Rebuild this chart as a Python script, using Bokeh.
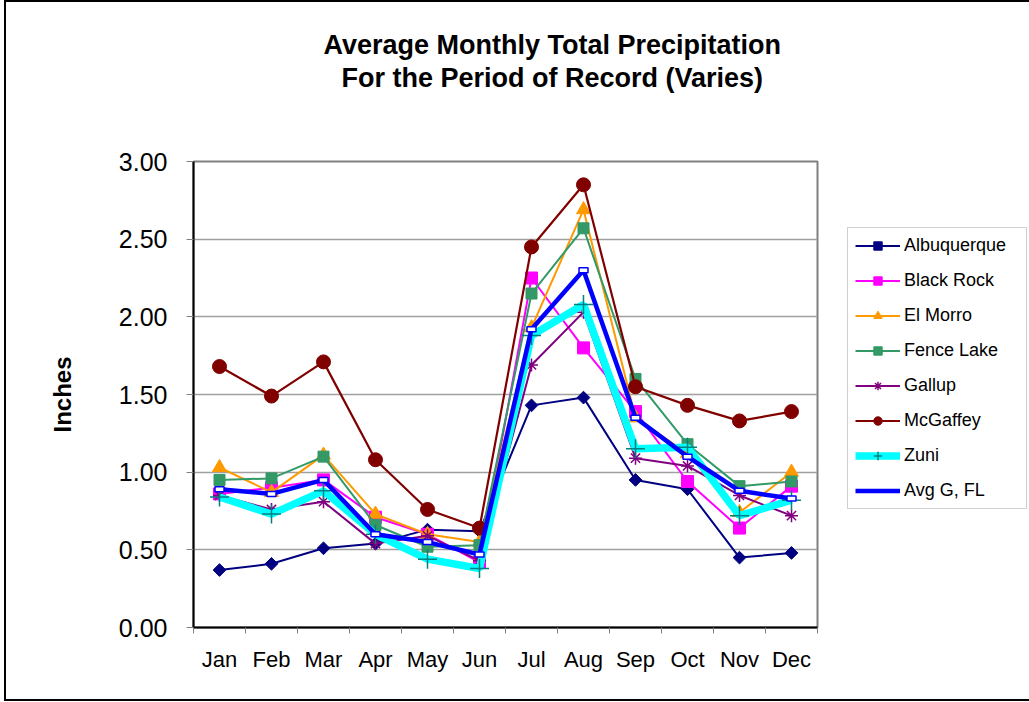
import numpy as np
from bokeh.plotting import figure
from bokeh.models import Range1d, FixedTicker, Legend, LegendItem, Title, NumeralTickFormatter, InlineStyleSheet
from bokeh.embed import file_html
from bokeh.resources import INLINE

months = ["Jan", "Feb", "Mar", "Apr", "May", "Jun", "Jul", "Aug", "Sep", "Oct", "Nov", "Dec"]
y_ticks = [0.0, 0.5, 1.0, 1.5, 2.0, 2.5, 3.0]
y_tick_labels = ["0.00", "0.50", "1.00", "1.50", "2.00", "2.50", "3.00"]
title_lines = ["Average Monthly Total Precipitation", "For the Period of Record (Varies)"]

albuquerque = [0.37, 0.41, 0.51, 0.54, 0.63, 0.62, 1.43, 1.48, 0.95, 0.89, 0.45, 0.48]
black_rock = [0.86, 0.90, 0.95, 0.71, 0.60, 0.42, 2.25, 1.80, 1.39, 0.94, 0.64, 0.91]
el_morro = [1.03, 0.87, 1.11, 0.73, 0.60, 0.55, 1.93, 2.69, 1.35, 1.12, 0.74, 1.00]
fence_lake = [0.95, 0.96, 1.10, 0.66, 0.52, 0.53, 2.15, 2.57, 1.60, 1.18, 0.91, 0.94]
gallup = [0.85, 0.76, 0.81, 0.54, 0.59, 0.43, 1.69, 2.03, 1.09, 1.04, 0.85, 0.72]
mcgaffey = [1.68, 1.49, 1.71, 1.08, 0.76, 0.64, 2.45, 2.85, 1.55, 1.43, 1.33, 1.39]
zuni = [0.84, 0.73, 0.88, 0.60, 0.44, 0.38, 1.88, 2.08, 1.15, 1.16, 0.72, 0.82]
avg_g_fl = [0.89, 0.86, 0.95, 0.60, 0.55, 0.47, 1.92, 2.30, 1.35, 1.10, 0.88, 0.83]

FONT = "Liberation Sans"
xs = [i + 0.5 for i in range(len(months))]

p = figure(frame_width=624, frame_height=466,
           min_border_left=193, min_border_right=212, min_border_top=161, min_border_bottom=75,
           x_range=Range1d(0, len(months)), y_range=Range1d(0, 3),
           output_backend="svg", toolbar_location=None, title=None)
p.background_fill_color = "white"
p.border_fill_color = "white"
p.outline_line_color = "#808080"
p.outline_line_width = 2
# outer chart frame
p.stylesheets = [InlineStyleSheet(css=":host::after { content: ''; position: absolute; left: 4px; top: 0px; "
                                      "right: 0px; bottom: 1px; border: 2px solid black; border-right: none; "
                                      "box-sizing: border-box; pointer-events: none; z-index: 1000; }")]

# axes
p.xaxis.ticker = FixedTicker(ticks=xs, minor_ticks=list(range(len(months) + 1)))
p.xaxis.major_label_overrides = {x: m for x, m in zip(xs, months)}
p.xaxis.major_tick_out = 0
p.xaxis.major_tick_in = 0
p.xaxis.minor_tick_out = 6
p.xaxis.minor_tick_in = 0
p.xaxis.minor_tick_line_color = "#808080"
p.xaxis.axis_line_color = "black"
p.xaxis.axis_line_width = 2
p.xaxis.major_label_text_font = FONT
p.xaxis.major_label_text_font_size = "22px"
p.xaxis.major_label_text_color = "black"
p.xaxis.major_label_standoff = 13

p.yaxis.ticker = FixedTicker(ticks=y_ticks, minor_ticks=[])
p.yaxis.formatter = NumeralTickFormatter(format="0.00")
p.yaxis.major_label_overrides = {(int(t) if float(t).is_integer() else t): lab for t, lab in zip(y_ticks, y_tick_labels)}
p.yaxis.major_tick_out = 7
p.yaxis.major_tick_in = 0
p.yaxis.major_tick_line_color = "#808080"
p.yaxis.minor_tick_line_color = None
p.yaxis.axis_line_color = "black"
p.yaxis.axis_line_width = 2
p.yaxis.major_label_text_font = FONT
p.yaxis.major_label_text_font_size = "25px"
p.yaxis.major_label_text_color = "black"
p.yaxis.major_label_standoff = 19
p.yaxis.axis_label = "Inches"
p.yaxis.axis_label_text_font = FONT
p.yaxis.axis_label_text_font_style = "bold"
p.yaxis.axis_label_text_font_size = "24px"
p.yaxis.axis_label_text_color = "black"
p.yaxis.axis_label_standoff = 40

p.xgrid.visible = False
p.ygrid.grid_line_color = "#a0a0a0"
p.ygrid.grid_line_width = 1.5

items = []

def series(name, vals, color, lw, marker, size, mfill=None, mline=None, mlw=1.0, angle=0.0):
    r1 = p.line(xs, vals, line_color=color, line_width=lw)
    r2 = p.scatter(xs, vals, marker=marker, size=size, angle=angle,
                   fill_color=mfill if mfill else color,
                   line_color=mline if mline else color, line_width=mlw)
    items.append(LegendItem(label=name, renderers=[r1, r2]))

series("Albuquerque", albuquerque, "#000080", 2, "square", 9, angle=np.pi / 4)
series("Black Rock", black_rock, "#FF00FF", 2, "square", 12)
series("El Morro", el_morro, "#FF9900", 2, "triangle", 14)
series("Fence Lake", fence_lake, "#339966", 2, "square", 11)
series("Gallup", gallup, "#800080", 2, "asterisk", 13, mlw=1.5)
series("McGaffey", mcgaffey, "#800000", 2.2, "circle", 14)
series("Zuni", zuni, "#00FFFF", 7.5, "cross", 19, mfill="#008080", mline="#008080", mlw=1.5)
avg_line = p.line(xs, avg_g_fl, line_color="#0000FF", line_width=4.5)
avg_mark = p.rect(xs, avg_g_fl, width=9, height=5, width_units="screen", height_units="screen",
                  fill_color="white", line_color="#0000FF", line_width=1.5)
items.append(LegendItem(label="Avg G, FL", renderers=[avg_line]))

legend = Legend(items=items, location=(30, 118), padding=7, spacing=14,
                label_height=21, glyph_height=21, glyph_width=45, label_standoff=4, label_width=115,
                label_text_font=FONT, label_text_font_size="18px", label_text_color="black",
                border_line_color="#a0a0a0", border_line_width=1.5, background_fill_alpha=0)
p.add_layout(legend, "right")

# titles: first added sits nearest the frame
p.add_layout(Title(text=" ", text_font_size="60px", standoff=0), "above")
p.add_layout(Title(text=title_lines[1], align="left", offset=148, standoff=0,
                   text_font=FONT, text_font_style="bold", text_font_size="27px", text_color="black"), "above")
p.add_layout(Title(text=title_lines[0], align="left", offset=130, standoff=2,
                   text_font=FONT, text_font_style="bold", text_font_size="27px", text_color="black"), "above")

open("out.html", "w").write(file_html(p, INLINE))
